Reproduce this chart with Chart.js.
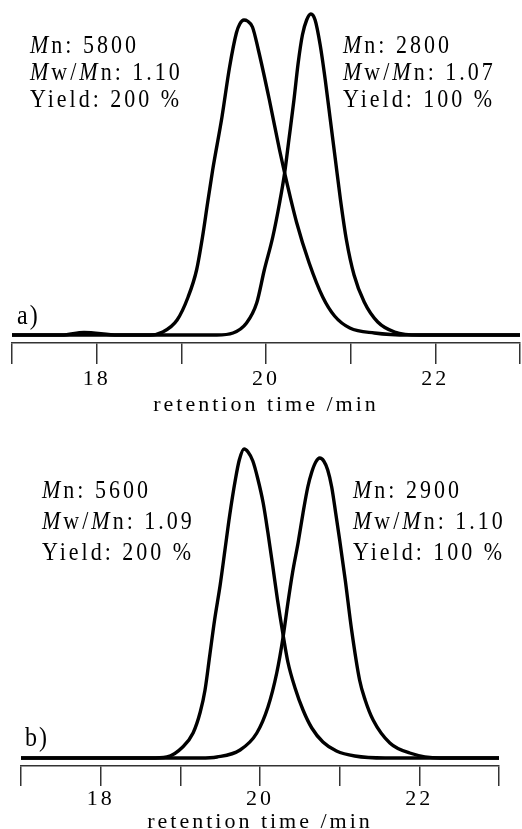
<!DOCTYPE html>
<html>
<head>
<meta charset="utf-8">
<script src="https://cdn.jsdelivr.net/npm/chart.js@4"></script>
<style>
  body { margin: 0; background: #fff; }
  #wrap { position: relative; width: 522px; height: 829px; overflow: hidden; font-family: "Liberation Serif", "Times New Roman", serif; color: #000; }
  canvas { position: absolute; left: 0; }
  .info { position: absolute; font-size: 22px; letter-spacing: 3px; white-space: nowrap; transform: scaleY(1.15); transform-origin: 0 0; }
  .panel { position: absolute; font-size: 24px; letter-spacing: 2px; transform: scaleY(1.15); transform-origin: 0 0; }
</style>
</head>
<body>
<div id="wrap">
  <canvas id="chartA" width="522" height="418" style="top:0"></canvas>
  <canvas id="chartB" width="522" height="421" style="top:414px"></canvas>

  <div class="info" style="left:30px; top:31px; line-height:23.5px"><i>M</i>n: 5800<br><i>M</i>w/<i>M</i>n: 1.10<br>Yield: 200 %</div>
  <div class="info" style="left:343px; top:31px; line-height:23.5px"><i>M</i>n: 2800<br><i>M</i>w/<i>M</i>n: 1.07<br>Yield: 100 %</div>
  <div class="panel" style="left:17px; top:300px">a)</div>

  <div class="info" style="left:42px; top:475px; line-height:26.8px"><i>M</i>n: 5600<br><i>M</i>w/<i>M</i>n: 1.09<br>Yield: 200 %</div>
  <div class="info" style="left:353px; top:475px; line-height:26.8px"><i>M</i>n: 2900<br><i>M</i>w/<i>M</i>n: 1.10<br>Yield: 100 %</div>
  <div class="panel" style="left:25px; top:722px">b)</div>
</div>
<script>
// retention time (min) and detector signal
const aFirstTime = [17.0, 17.59, 17.85, 18.25, 18.63, 18.78, 18.95, 19.08, 19.18, 19.25, 19.31, 19.37, 19.48, 19.57, 19.65, 19.69, 19.74, 19.78, 19.84, 19.91, 20.04, 20.16, 20.22, 20.36, 20.51, 20.67, 20.81, 20.99, 21.28, 21.69, 23.0];
const aFirstSignal = [0, 0, 2.5, 0, 0, 3, 15, 38, 65, 98, 132, 165, 218, 268, 302, 311, 315, 314, 308, 285, 235, 185, 162, 113, 72, 38, 19, 7, 2, 0, 0];

const aSecondTime = [17.0, 19.42, 19.61, 19.77, 19.89, 19.98, 20.08, 20.16, 20.22, 20.27, 20.33, 20.38, 20.43, 20.48, 20.53, 20.58, 20.64, 20.70, 20.76, 20.82, 20.88, 20.95, 21.04, 21.16, 21.32, 21.52, 21.81, 23.0];
const aSecondSignal = [0, 0, 2, 12, 32, 65, 98, 132, 162, 195, 235, 272, 300, 315, 321, 315, 290, 255, 215, 175, 135, 95, 60, 33, 13, 3, 0, 0];

const bFirstTime = [16.95, 18.62, 18.83, 19.03, 19.16, 19.25, 19.31, 19.37, 19.43, 19.50, 19.56, 19.62, 19.69, 19.74, 19.80, 19.85, 19.91, 19.97, 20.04, 20.10, 20.16, 20.22, 20.29, 20.35, 20.44, 20.54, 20.65, 20.79, 20.96, 21.19, 21.57, 23.0];
const bFirstSignal = [0, 0, 1, 11, 25, 46, 68, 103, 138, 173, 208, 243, 278, 298, 309, 306, 297, 280, 255, 225, 192, 158, 123, 96, 70, 48, 30, 16, 7, 2, 0, 0];

const bSecondTime = [16.95, 19.25, 19.46, 19.75, 19.96, 20.10, 20.21, 20.29, 20.35, 20.41, 20.48, 20.54, 20.60, 20.65, 20.70, 20.75, 20.80, 20.85, 20.90, 20.95, 21.00, 21.07, 21.15, 21.25, 21.32, 21.42, 21.63, 21.88, 22.26, 23.0];
const bSecondSignal = [0, 0, 1, 8, 25, 51, 85, 121, 155, 186, 216, 245, 271, 286, 296, 300, 297, 288, 271, 245, 218, 178, 128, 78, 58, 38, 15, 5, 0, 0];

const tickLabels = [18, 20, 22];

const toPoints = (xs, ys) => xs.map((x, i) => ({ x: x, y: ys[i] }));

// Chart.js has no letter-spacing option, set it on the context
const spacing = {
    id: "spacing",
    beforeDraw: (chart) => { chart.ctx.letterSpacing = "3px"; }
};

const makeChart = (id, series, opts) => {
    const ctx = document.getElementById(id).getContext("2d");
    return new Chart(ctx, {
        type: "line",
        data: {
            datasets: series.map((s) => ({
                data: toPoints(s[0], s[1]),
                borderColor: "#000",
                borderWidth: 3.4,
                pointRadius: 0,
                fill: false,
                cubicInterpolationMode: "monotone",
            })),
        },
        options: {
            responsive: false,
            animation: false,
            layout: { padding: opts.padding },
            plugins: { legend: { display: false }, tooltip: { enabled: false } },
            scales: {
                x: {
                    type: "linear",
                    min: 17,
                    max: 23,
                    afterFit: (scale) => { scale.height = opts.axisHeight; },
                    afterBuildTicks: (scale) => {
                        scale.ticks = [17, 18, 19, 20, 21, 22, 23].map((v) => ({ value: v }));
                    },
                    ticks: {
                        autoSkip: false,
                        maxRotation: 0,
                        padding: opts.labelPad,
                        color: "#000",
                        font: { family: "'Liberation Serif', serif", size: 22 },
                        callback: (v) => (tickLabels.includes(v) ? String(v) : ""),
                    },
                    grid: {
                        drawOnChartArea: false,
                        drawTicks: true,
                        tickLength: opts.tickLength,
                        color: "#333",
                        lineWidth: 1.5,
                    },
                    border: { display: true, color: "#333", width: 1.5 },
                    title: {
                        display: true,
                        text: "retention time /min",
                        color: "#000",
                        font: { family: "'Liberation Serif', serif", size: 22 },
                        padding: { top: 0, bottom: 0 },
                    },
                },
                y: { display: false, min: -8, max: opts.yMax },
            },
        },
        plugins: [spacing],
    });
};

makeChart("chartA", [[aFirstTime, aFirstSignal], [aSecondTime, aSecondSignal]], {
    padding: { top: 5, left: 12, right: 1, bottom: 0 },
    axisHeight: 75, tickLength: 21, labelPad: 2, yMax: 330,
});
makeChart("chartB", [[bFirstTime, bFirstSignal], [bSecondTime, bSecondSignal]], {
    padding: { top: 26, left: 21, right: 23, bottom: 0 },
    axisHeight: 69, tickLength: 20, labelPad: 0, yMax: 318,
});
</script>
</body>
</html>
